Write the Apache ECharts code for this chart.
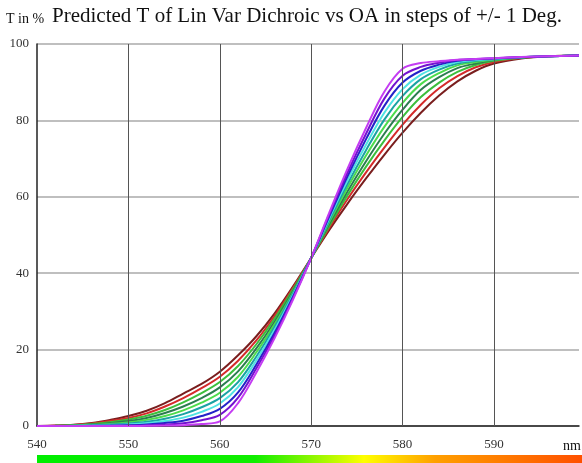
<!DOCTYPE html>
<html>
<head>
<meta charset="utf-8">
<script src="https://cdn.jsdelivr.net/npm/echarts@6/dist/echarts.min.js"></script>
<style>
  html, body { margin: 0; padding: 0; background: #fff; }
  #main { width: 582px; height: 463px; }
</style>
</head>
<body>
<div id="main"></div>
<script>
// wavelength samples (nm)
const wavelengths = [540, 542, 544, 546, 548, 550, 552, 554, 556, 558, 560, 562, 564, 566, 568,
  570, 572, 574, 576, 578, 580, 582, 584, 586, 588, 590, 593, 596, 599.3]

// one curve per angle step, shallowest first
const curve0 = [0, 0.1, 0.3, 0.8, 1.6, 2.6, 4, 6, 8.5, 11, 14.2, 18.5, 23.5, 29.5, 36.5,
  44, 51.4, 58.3, 64.8, 71, 76.8, 82, 86.5, 90.2, 93, 94.9, 96.2, 96.8, 97]
const curve1 = [0, 0.08, 0.25, 0.65, 1.3, 2.1, 3.3, 5.1, 7.3, 9.9, 12.9, 17.1, 22.4, 28.8, 36.1,
  44, 52, 59.5, 66.4, 72.9, 78.9, 84.1, 88.4, 91.6, 93.9, 95.3, 96.35, 96.8, 97]
const curve2 = [0, 0.06, 0.2, 0.5, 1.0, 1.7, 2.7, 4.2, 6.2, 8.6, 11.5, 15.7, 21.4, 28.1, 35.7,
  44, 52.5, 60.5, 67.9, 74.7, 80.9, 86.1, 89.9, 92.7, 94.5, 95.6, 96.4, 96.8, 97]
const curve3 = [0, 0.04, 0.15, 0.38, 0.75, 1.3, 2.1, 3.4, 5.1, 7.3, 10.1, 14.3, 20.3, 27.3, 35.3,
  44, 53, 61.5, 69.3, 76.5, 82.8, 88, 91.3, 93.7, 94.9, 95.8, 96.45, 96.8, 97]
const curve4 = [0, 0.02, 0.1, 0.27, 0.55, 0.95, 1.6, 2.6, 4.1, 6.1, 8.7, 12.9, 19.3, 26.6, 34.9,
  44, 53.5, 62.5, 70.8, 78.3, 84.6, 89.5, 92.4, 94.4, 95.3, 95.9, 96.5, 96.8, 97]
const curve5 = [0, 0, 0.06, 0.18, 0.38, 0.65, 1.1, 1.9, 3.1, 4.9, 7.3, 11.5, 18.2, 25.9, 34.6,
  44, 54, 63.5, 72.2, 80.2, 86.4, 90.8, 93.3, 94.9, 95.6, 96, 96.5, 96.8, 97]
const curve6 = [0, 0, 0.03, 0.1, 0.22, 0.4, 0.7, 1.3, 2.2, 3.7, 5.9, 10.2, 17.2, 25.2, 34.2,
  44, 54.5, 64.5, 73.6, 82, 88.2, 92, 94, 95.3, 95.8, 96.1, 96.55, 96.8, 97]
const curve7 = [0, 0, 0, 0.05, 0.1, 0.2, 0.4, 0.8, 1.4, 2.6, 4.5, 8.8, 16.1, 24.4, 33.8,
  44, 55, 65.5, 75.1, 83.8, 89.9, 93, 94.6, 95.6, 96, 96.2, 96.55, 96.8, 97]
const curve8 = [0, 0, 0, 0, 0.03, 0.08, 0.15, 0.4, 0.7, 1.5, 2.9, 7.4, 15.1, 23.7, 33.4,
  44, 55.5, 66.5, 76.5, 85.7, 91.7, 94, 95.1, 95.8, 96.05, 96.25, 96.6, 96.8, 97]
const curve9 = [0, 0, 0, 0, 0, 0, 0.05, 0.1, 0.2, 0.5, 1.2, 6, 14, 23, 33,
  44, 56, 67.5, 78, 87.5, 93.5, 95, 95.5, 95.9, 96.1, 96.3, 96.6, 96.8, 97]

const curves = [curve0, curve1, curve2, curve3, curve4, curve5, curve6, curve7, curve8, curve9]
const curveColors = ['#7a1e1e', '#d42a2a', '#3cbf3c', '#2b7d4f', '#4cdc4c',
  '#1aa3a3', '#4fe3e3', '#2323c8', '#7412d0', '#c43cf2']

const xTicks = [540, 550, 560, 570, 580, 590]
const xGridLines = [550, 560, 570, 580, 590]
const yTicks = [0, 20, 40, 60, 80, 100]

const font = '"Liberation Serif", "DejaVu Serif", serif'

const chartDom = document.getElementById('main')
const myChart = echarts.init(chartDom)
var option
option = {
  animation: false,
  backgroundColor: '#fff',
  grid: {
    left: 37,
    right: 0,
    top: 44,
    bottom: 37,
    containLabel: false
  },
  xAxis: {
    type: 'value',
    min: 540,
    max: 599.3,
    interval: 10,
    axisLine: { lineStyle: { color: '#222', width: 1.5 } },
    axisTick: { show: false },
    axisLabel: {
      margin: 12,
      color: '#333',
      fontFamily: font,
      fontSize: 13,
      formatter: v => (xTicks.indexOf(v) >= 0 ? String(v) : '')
    },
    splitLine: { show: false }
  },
  yAxis: {
    type: 'value',
    min: 0,
    max: 100,
    interval: 20,
    axisLine: { show: true, lineStyle: { color: '#222', width: 1.5 } },
    axisTick: { show: false },
    axisLabel: {
      margin: 8,
      color: '#333',
      fontFamily: font,
      fontSize: 13,
      formatter: v => (yTicks.indexOf(v) >= 0 ? String(v) : '')
    },
    splitLine: { show: true, lineStyle: { color: '#aaa', width: 1.5 } }
  },
  graphic: [
    {
      type: 'text', left: 6, top: 12,
      style: { text: 'T in %', font: '14px ' + font, fill: '#111' }
    },
    {
      type: 'text', left: 52, top: 6,
      style: { text: 'Predicted T of Lin Var Dichroic vs OA in steps of +/- 1 Deg.', font: '21px ' + font, fill: '#111' }
    },
    {
      type: 'text', left: 563, top: 439,
      style: { text: 'nm', font: '14px ' + font, fill: '#111' }
    },
    {
      type: 'rect',
      shape: { x: 37, y: 455, width: 545, height: 8 },
      style: {
        fill: new echarts.graphic.LinearGradient(0, 0, 1, 0, [
          { offset: 0, color: '#00ee00' },
          { offset: 0.4, color: '#10ee00' },
          { offset: 0.6, color: '#ffff00' },
          { offset: 0.73, color: '#ffa000' },
          { offset: 1, color: '#ff5000' }
        ])
      }
    }
  ],
  series: curves.map((vals, k) => ({
    type: 'line',
    smooth: 0.35,
    showSymbol: false,
    lineStyle: { color: curveColors[k], width: 2 },
    data: wavelengths.map((x, i) => [x, vals[i]]),
    markLine: k === 0 ? {
      silent: true,
      symbol: 'none',
      label: { show: false },
      lineStyle: { color: '#555', width: 1, type: 'solid' },
      data: xGridLines.map(v => ({ xAxis: v }))
    } : undefined
  }))
}
option && myChart.setOption(option)
</script>
</body>
</html>
